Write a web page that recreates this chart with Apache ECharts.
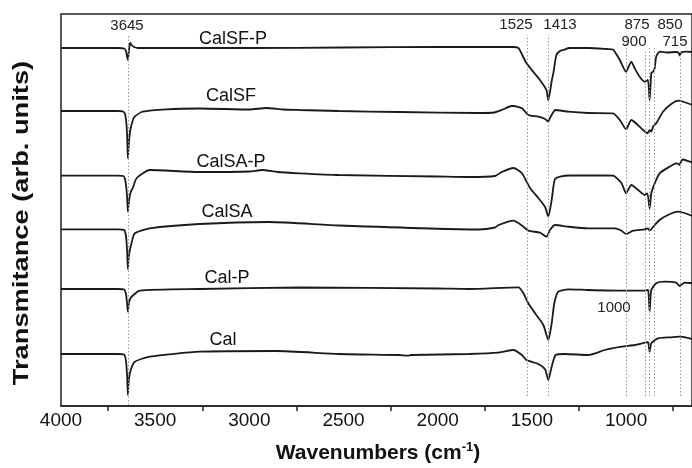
<!DOCTYPE html>
<html>
<head>
<meta charset="utf-8">
<script src="https://cdn.jsdelivr.net/npm/echarts@6/dist/echarts.min.js"></script>
<style>
  html, body { margin: 0; padding: 0; background: #fff; }
  #chart { width: 692px; height: 468px; }
</style>
</head>
<body>
<div id="chart"></div>
<script>
// FTIR spectra, offset vertically: [wavenumber (cm-1), transmittance (arb. units)]
const calSFP = [[4000,358],[3700,358],[3665,357.5],[3655,355],[3650,350],[3645,346],[3640,354],[3636,361],[3632,363],[3626,361],[3612,359],[3590,358],[3400,358],[3000,358],[2500,358.5],[2000,359],[1700,359],[1600,359],[1571,358],[1560,354.3],[1529,343],[1483,332],[1457,326],[1423,316],[1413,306],[1404,314],[1395,325],[1386,333],[1370,351],[1351,355],[1333,356],[1300,358],[1200,358],[1100,357],[1069,356.5],[1060,354.3],[1033,346],[1000,334.3],[985,340],[972,344.3],[955,338],[928,329.3],[901,324.3],[884,326],[875,306],[866,333],[857,334.3],[848,338],[840,349.3],[822,354.3],[780,353.5],[740,354],[722,353.5],[715,350.5],[708,353.5],[680,354.3],[650,354]];
const calSF = [[4000,295],[3700,295],[3670,294.5],[3660,292],[3652,281],[3648,265],[3645,247.7],[3640,262],[3633,275],[3620,285],[3609,289.3],[3566,294.3],[3441,296.7],[3265,297.5],[3000,296.5],[2910,298],[2820,296.5],[2735,296],[2524,295],[2206,294],[1783,293],[1700,293.5],[1660,296],[1608,300],[1598,300],[1553,297.7],[1519,291],[1466,289.3],[1430,287],[1413,284.5],[1404,288],[1386,294],[1377,296],[1307,294.3],[1200,293],[1069,292.7],[1033,286],[1000,276.7],[972,286],[910,276],[887,272.7],[875,276],[866,274.3],[857,279.3],[840,282.7],[804,294.3],[760,302],[721,305.3],[700,304.5],[662,302],[650,301]];
const calSAP = [[4000,230.3],[3700,230.3],[3670,230],[3660,227],[3652,216],[3648,205],[3645,194.3],[3640,204],[3630,214],[3619,218],[3598,228],[3529,236],[3265,234],[3000,234.5],[2931,236],[2850,234],[2735,232.7],[2524,231],[2000,229.5],[1836,229],[1695,230],[1660,234],[1598,238],[1553,232.7],[1510,218],[1466,208],[1430,199],[1413,189.3],[1395,206],[1386,219],[1377,227],[1351,229.3],[1300,230.5],[1113,230.5],[1069,230.3],[1024,222.7],[1000,212.7],[972,221],[936,216],[901,211],[887,212.7],[875,197.7],[866,212.7],[848,222.7],[822,232.7],[769,239.3],[734,242.7],[720,242],[715,241],[708,244.5],[699,246.5],[662,244.3],[650,244]];
const calSA = [[4000,176.7],[3700,176.7],[3665,176],[3655,170],[3649,155],[3645,136.7],[3640,150],[3626,162.7],[3608,172.7],[3529,177.7],[3265,182],[2894,184],[2524,180.5],[1783,176.5],[1695,178.5],[1677,181],[1598,185.3],[1545,179.3],[1519,175.3],[1457,173.3],[1422,169.3],[1404,176],[1377,181],[1307,179.3],[1201,177.7],[1060,177.7],[1024,175.3],[1000,172],[963,175.3],[901,176.7],[884,177.7],[875,175.3],[848,181],[822,186],[778,191],[725,194.3],[700,193.5],[662,191],[650,190]];
const calP = [[4000,117],[3700,117],[3665,116.5],[3655,112],[3649,102],[3645,94.3],[3640,103],[3628,108.7],[3582,115.3],[3265,117],[2735,118.5],[2000,117.5],[1836,117],[1571,118.7],[1545,112.7],[1519,102.7],[1483,92.7],[1439,81],[1413,66],[1395,82.7],[1381,102.7],[1360,114.3],[1307,116.7],[1201,116],[1006,115.3],[901,115.3],[884,116],[879,108],[875,94.3],[871,106],[866,116],[840,122.7],[795,124.3],[734,123.3],[715,120],[690,123.3],[662,123],[650,123]];
const cal = [[4000,52],[3700,52],[3665,51.5],[3655,45],[3649,30],[3645,11],[3640,26],[3630,36],[3608,44.3],[3529,49.3],[3265,54.3],[2857,55],[2524,52],[2206,51],[2160,50.3],[2140,51],[1836,52],[1677,53.3],[1598,56],[1553,51],[1529,46],[1466,42],[1430,36.7],[1413,26],[1395,39.3],[1374,51],[1324,52],[1201,51],[1113,56],[1024,59.3],[954,61],[901,63.3],[884,64],[875,54.3],[866,62.7],[831,67.7],[760,68.7],[715,69.3],[662,67.7],[650,67]];

const sampleNames = ['CalSF-P', 'CalSF', 'CalSA-P', 'CalSA', 'Cal-P', 'Cal'];
const sampleSpectra = [calSFP, calSF, calSAP, calSA, calP, cal];

// Band assignments marked with dotted guides
const bandPositions = [3645, 1525, 1413, 1000, 900, 875, 850, 715];
const bandTexts = ['3645', '1525', '1413', '1000', '900', '875', '850', '715'];

const xTickLabels = [4000, 3500, 3000, 2500, 2000, 1500, 1000];
const xMinorTicks = [3750, 3250, 2750, 2250, 1750, 1250, 750];

const chart = echarts.init(document.getElementById('chart'), null, { renderer: 'canvas' });

const FONT = 'Liberation Sans, Arial, Helvetica, sans-serif';
const INK = '#1a1a1a';

// guide extents (transmittance units) for each band line
const guideTop = { 3645: 372, 1525: 371, 1413: 371, 1000: 371, 900: 356, 875: 358, 850: 358, 715: 356 };
const guideBottom = { 3645: 1 };

const markLineData = bandPositions.map(w => [
  { coord: [w, guideBottom[w] !== undefined ? guideBottom[w] : 10] },
  { coord: [w, guideTop[w]] }
]);

const series = sampleSpectra.map((d, i) => ({
  name: sampleNames[i],
  type: 'line',
  data: d,
  showSymbol: false,
  symbol: 'none',
  smooth: 0.2,
  lineStyle: { color: INK, width: 1.8 },
  z: 3,
  silent: true
}));

series.push({
  type: 'line',
  data: [],
  silent: true,
  markLine: {
    silent: true,
    symbol: ['none', 'none'],
    label: { show: false },
    lineStyle: { color: '#9a9a9a', type: [1.5, 2], width: 1 },
    data: markLineData,
    animation: false
  }
});

chart.setOption({
  animation: false,
  backgroundColor: '#fff',
  grid: { left: 61, top: 14, width: 633, height: 392, show: true, borderColor: '#222', borderWidth: 1.5 },
  xAxis: {
    type: 'value',
    inverse: true,
    min: 650,
    max: 4000,
    axisLine: { show: true, lineStyle: { color: '#222', width: 1.5 } },
    axisTick: { show: true, customValues: xMinorTicks, inside: false, length: 5, lineStyle: { color: '#222', width: 1.5 } },
    axisLabel: { customValues: xTickLabels, fontSize: 19, color: '#111', margin: 5, fontFamily: FONT, formatter: v => String(v) },
    splitLine: { show: false }
  },
  yAxis: { type: 'value', min: 0, max: 392, show: false },
  series: series
});

// Annotations: sample names, band labels and axis titles
const sampleLabelPos = [[233, 39], [231, 96], [231, 162], [227, 212], [227, 278], [223, 340]];
const bandLabelPos = {
  '3645': [127, 26], '1525': [516, 25], '1413': [560, 25], '875': [637, 25],
  '850': [670, 25], '900': [634, 42], '715': [675, 42], '1000': [614, 308]
};

const graphics = [];
sampleNames.forEach((name, i) => {
  graphics.push({
    type: 'text', x: sampleLabelPos[i][0], y: sampleLabelPos[i][1], z: 10,
    style: { text: name, font: '18px ' + FONT, fill: '#111', textAlign: 'center', textVerticalAlign: 'middle' }
  });
});
bandTexts.forEach(t => {
  const p = bandLabelPos[t];
  graphics.push({
    type: 'text', x: p[0], y: p[1], z: 10,
    style: { text: t, font: '15px ' + FONT, fill: '#222', textAlign: 'center', textVerticalAlign: 'middle' }
  });
});
graphics.push({
  type: 'text', x: 22, y: 223, rotation: Math.PI / 2, scaleX: 1.24, z: 10,
  style: { text: 'Transmitance (arb. units)', font: 'bold 22px ' + FONT, fill: '#111', textAlign: 'center', textVerticalAlign: 'middle' }
});
graphics.push({
  type: 'text', x: 378, y: 453, z: 10,
  style: {
    text: '{a|Wavenumbers (cm}{b|-1}{a|)}',
    textAlign: 'center', textVerticalAlign: 'middle',
    rich: {
      a: { font: 'bold 21px ' + FONT, fill: '#111', lineHeight: 24 },
      b: { font: 'bold 13px ' + FONT, fill: '#111', verticalAlign: 'top', lineHeight: 24, padding: [0, 0, 10, 0] }
    }
  }
});
chart.setOption({ graphic: graphics });
</script>
</body>
</html>
